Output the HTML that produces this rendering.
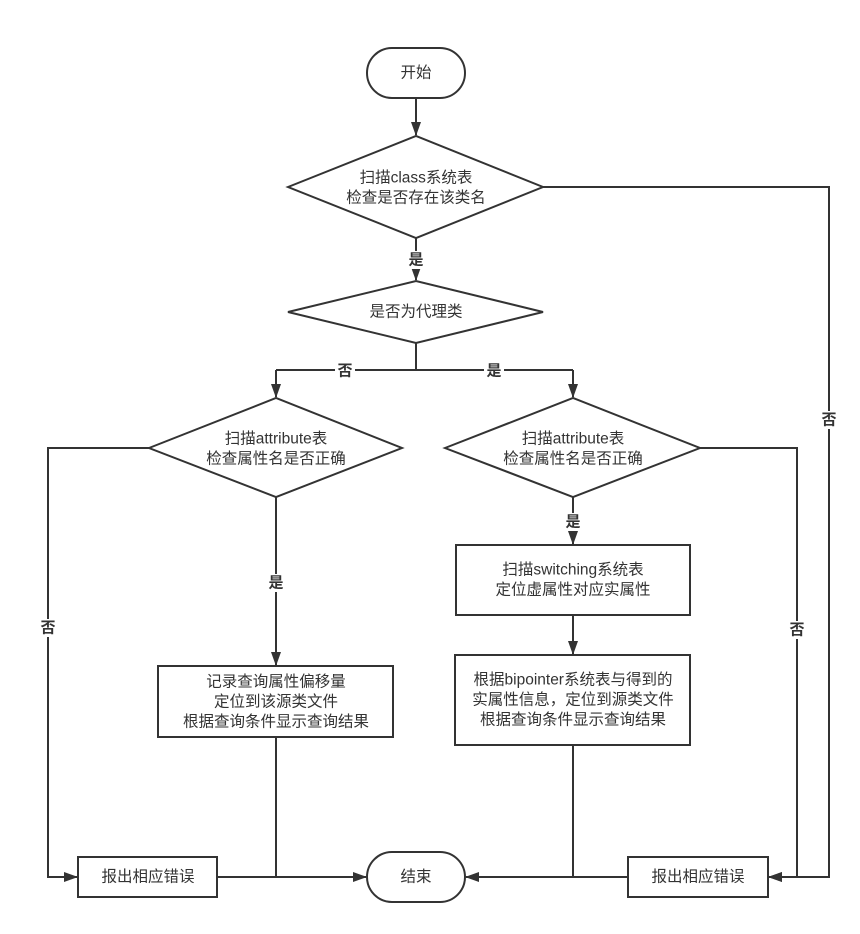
<!DOCTYPE html>
<html><head><meta charset="utf-8"><style>
html,body{margin:0;padding:0;background:#fff;width:860px;height:934px;overflow:hidden}
text{font-family:"Liberation Sans","Noto Sans CJK SC",sans-serif;font-size:15.5px;fill:#333;text-anchor:middle;dominant-baseline:central}
.b{font-weight:bold;font-size:15px}
</style></head><body>
<svg width="860" height="934" viewBox="0 0 860 934" xmlns="http://www.w3.org/2000/svg">
<defs><marker id="a" markerWidth="14" markerHeight="12" refX="13" refY="6" orient="auto" markerUnits="userSpaceOnUse"><path d="M0,1 L14,6 L0,11 z" fill="#333"/></marker></defs>
<g fill="none" stroke="#333" stroke-width="2">
<rect x="367" y="48" width="98" height="50" rx="25"/>
<rect x="367" y="852" width="98" height="50" rx="25"/>
<polygon points="288,187 416,136 543,187 416,238" fill="#fff"/>
<polygon points="288,312 416,281 543,312 416,343" fill="#fff"/>
<polygon points="149,448 276,398 402,448 276,497" fill="#fff"/>
<polygon points="445,448 573,398 700,448 573,497" fill="#fff"/>
<rect x="158" y="666" width="235" height="71"/>
<rect x="456" y="545" width="234" height="70"/>
<rect x="455" y="655" width="235" height="90"/>
<rect x="78" y="857" width="139" height="40"/>
<rect x="628" y="857" width="140" height="40"/>
<path d="M416,98 V135" marker-end="url(#a)"/>
<path d="M416,238 V280" marker-end="url(#a)"/>
<path d="M416,343 V370 M276,370 H573"/>
<path d="M276,370 V397" marker-end="url(#a)"/>
<path d="M573,370 V397" marker-end="url(#a)"/>
<path d="M276,497 V665" marker-end="url(#a)"/>
<path d="M573,497 V544" marker-end="url(#a)"/>
<path d="M573,615 V654" marker-end="url(#a)"/>
<path d="M149,448 H48 V877 H77" marker-end="url(#a)"/>
<path d="M217,877 H366" marker-end="url(#a)"/>
<path d="M276,737 V877"/>
<path d="M628,877 H466" marker-end="url(#a)"/>
<path d="M573,745 V877"/>
<path d="M700,448 H797 V877 H769" marker-end="url(#a)"/>
<path d="M543,187 H829 V877 H769" marker-end="url(#a)"/>
</g>
<g>
<rect x="406" y="251" width="20" height="18" fill="#fff"/>
<rect x="335" y="362" width="20" height="18" fill="#fff"/>
<rect x="484" y="362" width="20" height="18" fill="#fff"/>
<rect x="266" y="574" width="20" height="18" fill="#fff"/>
<rect x="563" y="513" width="20" height="18" fill="#fff"/>
<rect x="38" y="619" width="20" height="18" fill="#fff"/>
<rect x="787" y="621" width="20" height="18" fill="#fff"/>
<rect x="819" y="411" width="20" height="18" fill="#fff"/>
</g>
<text x="416" y="73">开始</text>
<text x="416" y="877">结束</text>
<text x="416" y="178">扫描class系统表</text>
<text x="416" y="198">检查是否存在该类名</text>
<text x="416" y="312">是否为代理类</text>
<text x="276" y="439">扫描attribute表</text>
<text x="276" y="459">检查属性名是否正确</text>
<text x="573" y="439">扫描attribute表</text>
<text x="573" y="459">检查属性名是否正确</text>
<text x="276" y="682">记录查询属性偏移量</text>
<text x="276" y="702">定位到该源类文件</text>
<text x="276" y="722">根据查询条件显示查询结果</text>
<text x="573" y="570">扫描switching系统表</text>
<text x="573" y="590">定位虚属性对应实属性</text>
<text x="573" y="680">根据bipointer系统表与得到的</text>
<text x="573" y="700">实属性信息，定位到源类文件</text>
<text x="573" y="720">根据查询条件显示查询结果</text>
<text x="148" y="877">报出相应错误</text>
<text x="698" y="877">报出相应错误</text>
<text class="b" x="416" y="260">是</text>
<text class="b" x="345" y="371">否</text>
<text class="b" x="494" y="371">是</text>
<text class="b" x="276" y="583">是</text>
<text class="b" x="573" y="522">是</text>
<text class="b" x="48" y="628">否</text>
<text class="b" x="797" y="630">否</text>
<text class="b" x="829" y="420">否</text>
</svg>
</body></html>
